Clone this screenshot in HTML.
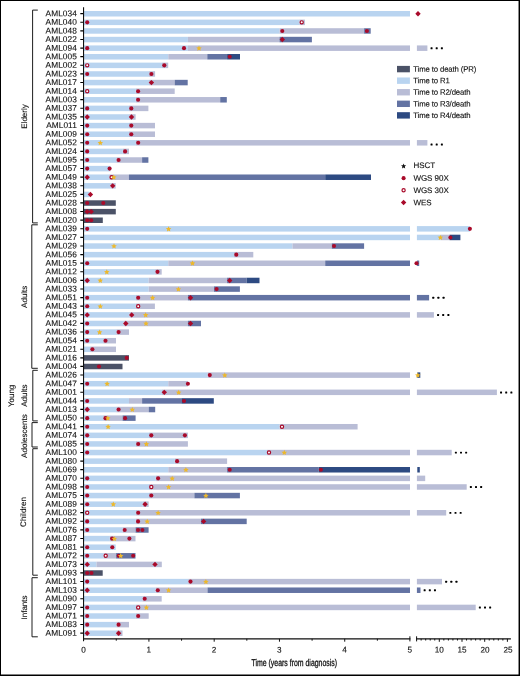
<!DOCTYPE html>
<html><head><meta charset="utf-8"><title>AML timeline</title>
<style>
html,body{margin:0;padding:0;background:#fff}
body{width:520px;height:676px;position:relative;overflow:hidden;font-family:"Liberation Sans",sans-serif}
</style></head><body>
<svg width="520" height="676" viewBox="0 0 520 676" style="position:absolute;left:0;top:0" font-family="'Liberation Sans', sans-serif" font-size="8" fill="#111" text-rendering="geometricPrecision">
<rect x="83.65" y="11.00" width="326.35" height="5.50" fill="#b9d4f0"/>
<rect x="83.65" y="19.60" width="215.75" height="5.50" fill="#b9d4f0"/>
<rect x="299.40" y="19.60" width="5.50" height="5.50" fill="#b9bdd6"/>
<rect x="83.65" y="28.21" width="195.85" height="5.50" fill="#b9d4f0"/>
<rect x="279.50" y="28.21" width="84.60" height="5.50" fill="#b9bdd6"/>
<rect x="364.10" y="28.21" width="6.60" height="5.50" fill="#6373a3"/>
<rect x="83.65" y="36.81" width="104.25" height="5.50" fill="#b9d4f0"/>
<rect x="187.90" y="36.81" width="91.60" height="5.50" fill="#b9bdd6"/>
<rect x="279.50" y="36.81" width="32.40" height="5.50" fill="#6373a3"/>
<rect x="83.65" y="45.42" width="104.25" height="5.50" fill="#b9d4f0"/>
<rect x="187.90" y="45.42" width="222.10" height="5.50" fill="#b9bdd6"/>
<rect x="416.90" y="45.42" width="10.50" height="5.50" fill="#b9bdd6"/>
<rect x="83.65" y="54.02" width="84.65" height="5.50" fill="#b9d4f0"/>
<rect x="168.30" y="54.02" width="39.00" height="5.50" fill="#b9bdd6"/>
<rect x="207.30" y="54.02" width="19.80" height="5.50" fill="#6373a3"/>
<rect x="227.10" y="54.02" width="12.90" height="5.50" fill="#2d4a82"/>
<rect x="83.65" y="62.62" width="78.35" height="5.50" fill="#b9d4f0"/>
<rect x="162.00" y="62.62" width="6.20" height="5.50" fill="#b9bdd6"/>
<rect x="83.65" y="71.23" width="65.45" height="5.50" fill="#b9d4f0"/>
<rect x="149.10" y="71.23" width="6.00" height="5.50" fill="#b9bdd6"/>
<rect x="83.65" y="79.83" width="65.45" height="5.50" fill="#b9d4f0"/>
<rect x="149.10" y="79.83" width="25.60" height="5.50" fill="#b9bdd6"/>
<rect x="174.70" y="79.83" width="13.00" height="5.50" fill="#6373a3"/>
<rect x="83.65" y="88.44" width="52.15" height="5.50" fill="#b9d4f0"/>
<rect x="135.80" y="88.44" width="38.90" height="5.50" fill="#b9bdd6"/>
<rect x="83.65" y="97.04" width="52.15" height="5.50" fill="#b9d4f0"/>
<rect x="135.80" y="97.04" width="84.40" height="5.50" fill="#b9bdd6"/>
<rect x="220.20" y="97.04" width="6.60" height="5.50" fill="#6373a3"/>
<rect x="83.65" y="105.64" width="45.35" height="5.50" fill="#b9d4f0"/>
<rect x="129.00" y="105.64" width="19.40" height="5.50" fill="#b9bdd6"/>
<rect x="83.65" y="114.25" width="45.55" height="5.50" fill="#b9d4f0"/>
<rect x="129.20" y="114.25" width="6.40" height="5.50" fill="#b9bdd6"/>
<rect x="83.65" y="122.85" width="45.35" height="5.50" fill="#b9d4f0"/>
<rect x="129.00" y="122.85" width="26.00" height="5.50" fill="#b9bdd6"/>
<rect x="83.65" y="131.46" width="45.35" height="5.50" fill="#b9d4f0"/>
<rect x="129.00" y="131.46" width="26.00" height="5.50" fill="#b9bdd6"/>
<rect x="83.65" y="140.06" width="52.25" height="5.50" fill="#b9d4f0"/>
<rect x="135.90" y="140.06" width="274.10" height="5.50" fill="#b9bdd6"/>
<rect x="416.90" y="140.06" width="10.50" height="5.50" fill="#b9bdd6"/>
<rect x="83.65" y="148.66" width="39.15" height="5.50" fill="#b9d4f0"/>
<rect x="122.80" y="148.66" width="6.20" height="5.50" fill="#b9bdd6"/>
<rect x="83.65" y="157.27" width="32.65" height="5.50" fill="#b9d4f0"/>
<rect x="116.30" y="157.27" width="25.80" height="5.50" fill="#b9bdd6"/>
<rect x="142.10" y="157.27" width="6.30" height="5.50" fill="#6373a3"/>
<rect x="83.65" y="165.87" width="26.85" height="5.50" fill="#b9d4f0"/>
<rect x="83.65" y="174.48" width="25.65" height="5.50" fill="#b9d4f0"/>
<rect x="109.30" y="174.48" width="19.60" height="5.50" fill="#b9bdd6"/>
<rect x="128.90" y="174.48" width="196.30" height="5.50" fill="#6373a3"/>
<rect x="325.20" y="174.48" width="45.80" height="5.50" fill="#2d4a82"/>
<rect x="83.65" y="183.08" width="26.75" height="5.50" fill="#b9d4f0"/>
<rect x="110.40" y="183.08" width="5.30" height="5.50" fill="#b9bdd6"/>
<rect x="83.65" y="191.68" width="5.75" height="5.50" fill="#b9d4f0"/>
<rect x="83.65" y="200.29" width="32.15" height="5.50" fill="#4b5267"/>
<rect x="83.65" y="208.89" width="32.15" height="5.50" fill="#4b5267"/>
<rect x="83.65" y="217.50" width="19.15" height="5.50" fill="#4b5267"/>
<rect x="83.65" y="226.10" width="326.35" height="5.50" fill="#b9d4f0"/>
<rect x="416.90" y="226.10" width="53.00" height="5.50" fill="#b9d4f0"/>
<rect x="83.65" y="234.70" width="326.35" height="5.50" fill="#b9d4f0"/>
<rect x="416.90" y="234.70" width="24.10" height="5.50" fill="#b9d4f0"/>
<rect x="441.00" y="234.70" width="8.60" height="5.50" fill="#b9bdd6"/>
<rect x="449.60" y="234.70" width="10.80" height="5.50" fill="#2d4a82"/>
<rect x="83.65" y="243.31" width="208.85" height="5.50" fill="#b9d4f0"/>
<rect x="292.50" y="243.31" width="39.20" height="5.50" fill="#b9bdd6"/>
<rect x="331.70" y="243.31" width="32.40" height="5.50" fill="#6373a3"/>
<rect x="83.65" y="251.91" width="150.35" height="5.50" fill="#b9d4f0"/>
<rect x="234.00" y="251.91" width="19.30" height="5.50" fill="#b9bdd6"/>
<rect x="83.65" y="260.52" width="84.65" height="5.50" fill="#b9d4f0"/>
<rect x="168.30" y="260.52" width="156.90" height="5.50" fill="#b9bdd6"/>
<rect x="325.20" y="260.52" width="84.80" height="5.50" fill="#6373a3"/>
<rect x="416.90" y="260.52" width="2.30" height="5.50" fill="#6373a3"/>
<rect x="83.65" y="269.12" width="71.55" height="5.50" fill="#b9d4f0"/>
<rect x="155.20" y="269.12" width="6.50" height="5.50" fill="#b9bdd6"/>
<rect x="83.65" y="277.72" width="65.05" height="5.50" fill="#b9d4f0"/>
<rect x="148.70" y="277.72" width="78.40" height="5.50" fill="#b9bdd6"/>
<rect x="227.10" y="277.72" width="19.60" height="5.50" fill="#6373a3"/>
<rect x="246.70" y="277.72" width="12.80" height="5.50" fill="#2d4a82"/>
<rect x="83.65" y="286.33" width="65.05" height="5.50" fill="#b9d4f0"/>
<rect x="148.70" y="286.33" width="65.30" height="5.50" fill="#b9bdd6"/>
<rect x="214.00" y="286.33" width="25.90" height="5.50" fill="#6373a3"/>
<rect x="83.65" y="294.93" width="52.25" height="5.50" fill="#b9d4f0"/>
<rect x="135.90" y="294.93" width="52.00" height="5.50" fill="#b9bdd6"/>
<rect x="187.90" y="294.93" width="222.10" height="5.50" fill="#6373a3"/>
<rect x="416.90" y="294.93" width="12.20" height="5.50" fill="#6373a3"/>
<rect x="83.65" y="303.54" width="52.25" height="5.50" fill="#b9d4f0"/>
<rect x="135.90" y="303.54" width="19.00" height="5.50" fill="#b9bdd6"/>
<rect x="83.65" y="312.14" width="45.75" height="5.50" fill="#b9d4f0"/>
<rect x="129.40" y="312.14" width="280.60" height="5.50" fill="#b9bdd6"/>
<rect x="416.90" y="312.14" width="17.00" height="5.50" fill="#b9bdd6"/>
<rect x="83.65" y="320.74" width="39.85" height="5.50" fill="#b9d4f0"/>
<rect x="123.50" y="320.74" width="64.40" height="5.50" fill="#b9bdd6"/>
<rect x="187.90" y="320.74" width="13.10" height="5.50" fill="#6373a3"/>
<rect x="83.65" y="329.35" width="32.65" height="5.50" fill="#b9d4f0"/>
<rect x="116.30" y="329.35" width="12.70" height="5.50" fill="#b9bdd6"/>
<rect x="83.65" y="337.95" width="19.55" height="5.50" fill="#b9d4f0"/>
<rect x="103.20" y="337.95" width="12.80" height="5.50" fill="#b9bdd6"/>
<rect x="83.65" y="346.56" width="6.45" height="5.50" fill="#b9d4f0"/>
<rect x="90.10" y="346.56" width="25.90" height="5.50" fill="#b9bdd6"/>
<rect x="83.65" y="355.16" width="45.35" height="5.50" fill="#4b5267"/>
<rect x="83.65" y="363.76" width="38.85" height="5.50" fill="#4b5267"/>
<rect x="83.65" y="372.37" width="123.85" height="5.50" fill="#b9d4f0"/>
<rect x="207.50" y="372.37" width="202.50" height="5.50" fill="#b9bdd6"/>
<rect x="417.30" y="372.37" width="3.00" height="5.50" fill="#2d4a82"/>
<rect x="83.65" y="380.97" width="84.65" height="5.50" fill="#b9d4f0"/>
<rect x="168.30" y="380.97" width="19.60" height="5.50" fill="#b9bdd6"/>
<rect x="83.65" y="389.58" width="78.35" height="5.50" fill="#b9d4f0"/>
<rect x="162.00" y="389.58" width="248.00" height="5.50" fill="#b9bdd6"/>
<rect x="416.90" y="389.58" width="80.00" height="5.50" fill="#b9bdd6"/>
<rect x="83.65" y="398.18" width="45.35" height="5.50" fill="#b9d4f0"/>
<rect x="129.00" y="398.18" width="13.10" height="5.50" fill="#b9bdd6"/>
<rect x="142.10" y="398.18" width="39.20" height="5.50" fill="#6373a3"/>
<rect x="181.30" y="398.18" width="32.50" height="5.50" fill="#2d4a82"/>
<rect x="83.65" y="406.78" width="32.65" height="5.50" fill="#b9d4f0"/>
<rect x="116.30" y="406.78" width="32.40" height="5.50" fill="#b9bdd6"/>
<rect x="148.70" y="406.78" width="6.50" height="5.50" fill="#6373a3"/>
<rect x="83.65" y="415.39" width="19.55" height="5.50" fill="#b9d4f0"/>
<rect x="103.20" y="415.39" width="19.30" height="5.50" fill="#b9bdd6"/>
<rect x="122.50" y="415.39" width="13.10" height="5.50" fill="#6373a3"/>
<rect x="83.65" y="423.99" width="195.85" height="5.50" fill="#b9d4f0"/>
<rect x="279.50" y="423.99" width="78.10" height="5.50" fill="#b9bdd6"/>
<rect x="83.65" y="432.60" width="65.35" height="5.50" fill="#b9d4f0"/>
<rect x="149.00" y="432.60" width="38.90" height="5.50" fill="#b9bdd6"/>
<rect x="83.65" y="441.20" width="52.25" height="5.50" fill="#b9d4f0"/>
<rect x="135.90" y="441.20" width="52.00" height="5.50" fill="#b9bdd6"/>
<rect x="83.65" y="449.80" width="183.35" height="5.50" fill="#b9d4f0"/>
<rect x="267.00" y="449.80" width="143.00" height="5.50" fill="#b9bdd6"/>
<rect x="416.90" y="449.80" width="34.80" height="5.50" fill="#b9bdd6"/>
<rect x="83.65" y="458.41" width="91.15" height="5.50" fill="#b9d4f0"/>
<rect x="174.80" y="458.41" width="52.30" height="5.50" fill="#b9bdd6"/>
<rect x="83.65" y="467.01" width="84.65" height="5.50" fill="#b9d4f0"/>
<rect x="168.30" y="467.01" width="58.80" height="5.50" fill="#b9bdd6"/>
<rect x="227.10" y="467.01" width="91.60" height="5.50" fill="#6373a3"/>
<rect x="318.70" y="467.01" width="91.30" height="5.50" fill="#2d4a82"/>
<rect x="417.30" y="467.01" width="2.50" height="5.50" fill="#2d4a82"/>
<rect x="83.65" y="475.62" width="72.15" height="5.50" fill="#b9d4f0"/>
<rect x="155.80" y="475.62" width="254.20" height="5.50" fill="#b9bdd6"/>
<rect x="416.90" y="475.62" width="8.30" height="5.50" fill="#b9bdd6"/>
<rect x="83.65" y="484.22" width="65.35" height="5.50" fill="#b9d4f0"/>
<rect x="149.00" y="484.22" width="261.00" height="5.50" fill="#b9bdd6"/>
<rect x="416.90" y="484.22" width="49.80" height="5.50" fill="#b9bdd6"/>
<rect x="83.65" y="492.82" width="65.35" height="5.50" fill="#b9d4f0"/>
<rect x="149.00" y="492.82" width="45.40" height="5.50" fill="#b9bdd6"/>
<rect x="194.40" y="492.82" width="45.50" height="5.50" fill="#6373a3"/>
<rect x="83.65" y="501.43" width="59.15" height="5.50" fill="#b9d4f0"/>
<rect x="142.80" y="501.43" width="5.90" height="5.50" fill="#b9bdd6"/>
<rect x="83.65" y="510.03" width="52.25" height="5.50" fill="#b9d4f0"/>
<rect x="135.90" y="510.03" width="274.10" height="5.50" fill="#b9bdd6"/>
<rect x="416.90" y="510.03" width="29.30" height="5.50" fill="#b9bdd6"/>
<rect x="83.65" y="518.64" width="52.10" height="5.50" fill="#b9d4f0"/>
<rect x="135.75" y="518.64" width="65.25" height="5.50" fill="#b9bdd6"/>
<rect x="201.00" y="518.64" width="45.70" height="5.50" fill="#6373a3"/>
<rect x="83.65" y="527.24" width="38.75" height="5.50" fill="#b9d4f0"/>
<rect x="122.40" y="527.24" width="13.10" height="5.50" fill="#b9bdd6"/>
<rect x="135.50" y="527.24" width="13.10" height="5.50" fill="#6373a3"/>
<rect x="83.65" y="535.84" width="26.15" height="5.50" fill="#b9d4f0"/>
<rect x="109.80" y="535.84" width="25.70" height="5.50" fill="#b9bdd6"/>
<rect x="83.65" y="544.45" width="32.05" height="5.50" fill="#b9d4f0"/>
<rect x="83.65" y="553.05" width="19.75" height="5.50" fill="#b9d4f0"/>
<rect x="103.40" y="553.05" width="12.70" height="5.50" fill="#b9bdd6"/>
<rect x="116.10" y="553.05" width="19.40" height="5.50" fill="#6373a3"/>
<rect x="83.65" y="561.66" width="12.85" height="5.50" fill="#b9d4f0"/>
<rect x="96.50" y="561.66" width="65.30" height="5.50" fill="#b9bdd6"/>
<rect x="83.65" y="570.26" width="19.05" height="5.50" fill="#4b5267"/>
<rect x="83.65" y="578.86" width="104.55" height="5.50" fill="#b9d4f0"/>
<rect x="188.20" y="578.86" width="221.80" height="5.50" fill="#b9bdd6"/>
<rect x="416.90" y="578.86" width="25.10" height="5.50" fill="#b9bdd6"/>
<rect x="83.65" y="587.47" width="71.85" height="5.50" fill="#b9d4f0"/>
<rect x="155.50" y="587.47" width="52.00" height="5.50" fill="#b9bdd6"/>
<rect x="207.50" y="587.47" width="202.50" height="5.50" fill="#6373a3"/>
<rect x="416.90" y="587.47" width="3.60" height="5.50" fill="#6373a3"/>
<rect x="83.65" y="596.07" width="58.75" height="5.50" fill="#b9d4f0"/>
<rect x="142.40" y="596.07" width="19.30" height="5.50" fill="#b9bdd6"/>
<rect x="83.65" y="604.68" width="52.25" height="5.50" fill="#b9d4f0"/>
<rect x="135.90" y="604.68" width="274.10" height="5.50" fill="#b9bdd6"/>
<rect x="416.90" y="604.68" width="58.80" height="5.50" fill="#b9bdd6"/>
<rect x="83.65" y="613.28" width="52.25" height="5.50" fill="#b9d4f0"/>
<rect x="135.90" y="613.28" width="12.80" height="5.50" fill="#b9bdd6"/>
<rect x="83.65" y="621.88" width="32.65" height="5.50" fill="#b9d4f0"/>
<rect x="116.30" y="621.88" width="12.70" height="5.50" fill="#b9bdd6"/>
<rect x="83.65" y="630.49" width="32.65" height="5.50" fill="#b9d4f0"/>
<rect x="116.30" y="630.49" width="6.20" height="5.50" fill="#b9bdd6"/>
<polygon points="415.30,13.75 418.00,11.05 420.70,13.75 418.00,16.45" fill="#a90a2a"/>
<circle cx="87.20" cy="22.35" r="2.05" fill="#a90a2a"/>
<circle cx="301.70" cy="22.35" r="1.6" fill="#fff" stroke="#a90a2a" stroke-width="1.2"/>
<circle cx="282.30" cy="30.96" r="2.05" fill="#a90a2a"/>
<circle cx="366.90" cy="30.96" r="2.05" fill="#a90a2a"/>
<polygon points="279.60,39.56 282.30,36.86 285.00,39.56 282.30,42.26" fill="#a90a2a"/>
<rect x="430.55" y="47.32" width="2.0" height="1.9" rx="0.5" fill="#000"/>
<rect x="435.70" y="47.32" width="2.0" height="1.9" rx="0.5" fill="#000"/>
<rect x="440.85" y="47.32" width="2.0" height="1.9" rx="0.5" fill="#000"/>
<circle cx="87.20" cy="48.17" r="2.05" fill="#a90a2a"/>
<circle cx="184.00" cy="48.17" r="2.05" fill="#a90a2a"/>
<polygon points="199.00,45.47 199.80,47.26 201.76,47.47 200.30,48.79 200.70,50.71 199.00,49.73 197.30,50.71 197.70,48.79 196.24,47.47 198.20,47.26" fill="#edb82b"/>
<circle cx="229.70" cy="56.77" r="2.05" fill="#a90a2a"/>
<circle cx="87.20" cy="65.37" r="1.6" fill="#fff" stroke="#a90a2a" stroke-width="1.2"/>
<circle cx="164.30" cy="65.37" r="2.05" fill="#a90a2a"/>
<circle cx="87.20" cy="73.98" r="2.05" fill="#a90a2a"/>
<circle cx="151.40" cy="73.98" r="2.05" fill="#a90a2a"/>
<polygon points="148.70,82.58 151.40,79.88 154.10,82.58 151.40,85.28" fill="#a90a2a"/>
<circle cx="87.20" cy="91.19" r="1.6" fill="#fff" stroke="#a90a2a" stroke-width="1.2"/>
<circle cx="138.10" cy="91.19" r="2.05" fill="#a90a2a"/>
<circle cx="138.10" cy="99.79" r="2.05" fill="#a90a2a"/>
<circle cx="87.20" cy="108.39" r="2.05" fill="#a90a2a"/>
<circle cx="131.30" cy="108.39" r="2.05" fill="#a90a2a"/>
<polygon points="84.50,117.00 87.20,114.30 89.90,117.00 87.20,119.70" fill="#a90a2a"/>
<polygon points="128.80,117.00 131.50,114.30 134.20,117.00 131.50,119.70" fill="#a90a2a"/>
<circle cx="87.20" cy="125.60" r="2.05" fill="#a90a2a"/>
<circle cx="131.30" cy="125.60" r="2.05" fill="#a90a2a"/>
<circle cx="87.20" cy="134.21" r="2.05" fill="#a90a2a"/>
<circle cx="131.30" cy="134.21" r="2.05" fill="#a90a2a"/>
<rect x="430.55" y="143.56" width="2.0" height="1.9" rx="0.5" fill="#000"/>
<rect x="435.70" y="143.56" width="2.0" height="1.9" rx="0.5" fill="#000"/>
<rect x="440.85" y="143.56" width="2.0" height="1.9" rx="0.5" fill="#000"/>
<circle cx="87.20" cy="142.81" r="2.05" fill="#a90a2a"/>
<polygon points="100.30,140.11 101.10,141.91 103.06,142.11 101.60,143.43 102.00,145.36 100.30,144.37 98.60,145.36 99.00,143.43 97.54,142.11 99.50,141.91" fill="#edb82b"/>
<circle cx="138.20" cy="142.81" r="2.05" fill="#a90a2a"/>
<circle cx="87.20" cy="151.41" r="2.05" fill="#a90a2a"/>
<circle cx="125.10" cy="151.41" r="2.05" fill="#a90a2a"/>
<circle cx="87.20" cy="160.02" r="2.05" fill="#a90a2a"/>
<circle cx="118.60" cy="160.02" r="2.05" fill="#a90a2a"/>
<circle cx="87.20" cy="168.62" r="2.05" fill="#a90a2a"/>
<circle cx="109.60" cy="168.62" r="2.05" fill="#a90a2a"/>
<polygon points="84.50,177.23 87.20,174.53 89.90,177.23 87.20,179.93" fill="#a90a2a"/>
<circle cx="111.60" cy="177.23" r="1.6" fill="#fff" stroke="#a90a2a" stroke-width="1.2"/>
<polygon points="113.80,174.53 114.60,176.32 116.56,176.53 115.10,177.85 115.50,179.77 113.80,178.79 112.10,179.77 112.50,177.85 111.04,176.53 113.00,176.32" fill="#edb82b"/>
<polygon points="110.00,185.83 112.70,183.13 115.40,185.83 112.70,188.53" fill="#a90a2a"/>
<polygon points="87.70,194.43 90.40,191.73 93.10,194.43 90.40,197.13" fill="#a90a2a"/>
<circle cx="87.20" cy="203.04" r="2.05" fill="#a90a2a"/>
<circle cx="103.30" cy="203.04" r="2.05" fill="#a90a2a"/>
<polygon points="84.50,211.64 87.20,208.94 89.90,211.64 87.20,214.34" fill="#a90a2a"/>
<polygon points="88.50,211.64 91.20,208.94 93.90,211.64 91.20,214.34" fill="#a90a2a"/>
<circle cx="87.20" cy="220.25" r="2.05" fill="#a90a2a"/>
<circle cx="91.20" cy="220.25" r="2.05" fill="#a90a2a"/>
<circle cx="87.20" cy="228.85" r="2.05" fill="#a90a2a"/>
<polygon points="168.60,226.15 169.40,227.95 171.36,228.15 169.90,229.47 170.30,231.40 168.60,230.41 166.90,231.40 167.30,229.47 165.84,228.15 167.80,227.95" fill="#edb82b"/>
<circle cx="469.90" cy="228.85" r="2.05" fill="#a90a2a"/>
<polygon points="440.40,234.75 441.20,236.55 443.16,236.76 441.70,238.08 442.10,240.00 440.40,239.02 438.70,240.00 439.10,238.08 437.64,236.76 439.60,236.55" fill="#edb82b"/>
<circle cx="450.40" cy="237.45" r="2.05" fill="#a90a2a"/>
<polygon points="114.00,243.36 114.80,245.16 116.76,245.36 115.30,246.68 115.70,248.60 114.00,247.62 112.30,248.60 112.70,246.68 111.24,245.36 113.20,245.16" fill="#edb82b"/>
<circle cx="334.00" cy="246.06" r="2.05" fill="#a90a2a"/>
<circle cx="236.30" cy="254.66" r="2.05" fill="#a90a2a"/>
<circle cx="87.20" cy="263.27" r="2.05" fill="#a90a2a"/>
<polygon points="192.50,260.57 193.30,262.36 195.26,262.57 193.80,263.89 194.20,265.81 192.50,264.83 190.80,265.81 191.20,263.89 189.74,262.57 191.70,262.36" fill="#edb82b"/>
<circle cx="416.50" cy="263.27" r="2.05" fill="#a90a2a"/>
<polygon points="106.80,269.17 107.60,270.97 109.56,271.17 108.10,272.49 108.50,274.42 106.80,273.43 105.10,274.42 105.50,272.49 104.04,271.17 106.00,270.97" fill="#edb82b"/>
<circle cx="157.50" cy="271.87" r="2.05" fill="#a90a2a"/>
<polygon points="84.50,280.47 87.20,277.77 89.90,280.47 87.20,283.17" fill="#a90a2a"/>
<polygon points="100.30,277.77 101.10,279.57 103.06,279.78 101.60,281.10 102.00,283.02 100.30,282.04 98.60,283.02 99.00,281.10 97.54,279.78 99.50,279.57" fill="#edb82b"/>
<polygon points="227.00,280.47 229.70,277.77 232.40,280.47 229.70,283.17" fill="#a90a2a"/>
<polygon points="178.40,286.38 179.20,288.18 181.16,288.38 179.70,289.70 180.10,291.62 178.40,290.64 176.70,291.62 177.10,289.70 175.64,288.38 177.60,288.18" fill="#edb82b"/>
<circle cx="216.60" cy="289.08" r="2.05" fill="#a90a2a"/>
<rect x="432.25" y="296.83" width="2.0" height="1.9" rx="0.5" fill="#000"/>
<rect x="437.40" y="296.83" width="2.0" height="1.9" rx="0.5" fill="#000"/>
<rect x="442.55" y="296.83" width="2.0" height="1.9" rx="0.5" fill="#000"/>
<circle cx="87.20" cy="297.68" r="2.05" fill="#a90a2a"/>
<circle cx="138.20" cy="297.68" r="2.05" fill="#a90a2a"/>
<polygon points="152.60,294.98 153.40,296.78 155.36,296.99 153.90,298.30 154.30,300.23 152.60,299.24 150.90,300.23 151.30,298.30 149.84,296.99 151.80,296.78" fill="#edb82b"/>
<polygon points="187.80,297.68 190.50,294.98 193.20,297.68 190.50,300.38" fill="#a90a2a"/>
<circle cx="87.20" cy="306.29" r="2.05" fill="#a90a2a"/>
<polygon points="100.30,303.59 101.10,305.38 103.06,305.59 101.60,306.91 102.00,308.83 100.30,307.85 98.60,308.83 99.00,306.91 97.54,305.59 99.50,305.38" fill="#edb82b"/>
<circle cx="138.20" cy="306.29" r="1.6" fill="#fff" stroke="#a90a2a" stroke-width="1.2"/>
<rect x="437.05" y="314.04" width="2.0" height="1.9" rx="0.5" fill="#000"/>
<rect x="442.20" y="314.04" width="2.0" height="1.9" rx="0.5" fill="#000"/>
<rect x="447.35" y="314.04" width="2.0" height="1.9" rx="0.5" fill="#000"/>
<polygon points="84.50,314.89 87.20,312.19 89.90,314.89 87.20,317.59" fill="#a90a2a"/>
<polygon points="129.00,314.89 131.70,312.19 134.40,314.89 131.70,317.59" fill="#a90a2a"/>
<polygon points="145.70,312.19 146.50,313.99 148.46,314.19 147.00,315.51 147.40,317.44 145.70,316.45 144.00,317.44 144.40,315.51 142.94,314.19 144.90,313.99" fill="#edb82b"/>
<circle cx="87.20" cy="323.49" r="2.05" fill="#a90a2a"/>
<polygon points="123.10,323.49 125.80,320.79 128.50,323.49 125.80,326.19" fill="#a90a2a"/>
<polygon points="146.00,320.79 146.80,322.59 148.76,322.80 147.30,324.12 147.70,326.04 146.00,325.06 144.30,326.04 144.70,324.12 143.24,322.80 145.20,322.59" fill="#edb82b"/>
<polygon points="187.80,323.49 190.50,320.79 193.20,323.49 190.50,326.19" fill="#a90a2a"/>
<circle cx="87.20" cy="332.10" r="2.05" fill="#a90a2a"/>
<polygon points="99.60,329.40 100.40,331.20 102.36,331.40 100.90,332.72 101.30,334.64 99.60,333.66 97.90,334.64 98.30,332.72 96.84,331.40 98.80,331.20" fill="#edb82b"/>
<circle cx="118.60" cy="332.10" r="2.05" fill="#a90a2a"/>
<circle cx="87.20" cy="340.70" r="2.05" fill="#a90a2a"/>
<circle cx="105.50" cy="340.70" r="2.05" fill="#a90a2a"/>
<circle cx="92.40" cy="349.31" r="2.05" fill="#a90a2a"/>
<circle cx="126.70" cy="357.91" r="2.05" fill="#a90a2a"/>
<circle cx="99.00" cy="366.51" r="2.05" fill="#a90a2a"/>
<circle cx="209.80" cy="375.12" r="2.05" fill="#a90a2a"/>
<polygon points="224.80,372.42 225.60,374.22 227.56,374.42 226.10,375.74 226.50,377.66 224.80,376.68 223.10,377.66 223.50,375.74 222.04,374.42 224.00,374.22" fill="#edb82b"/>
<polygon points="417.80,372.42 418.60,374.22 420.56,374.42 419.10,375.74 419.50,377.66 417.80,376.68 416.10,377.66 416.50,375.74 415.04,374.42 417.00,374.22" fill="#edb82b"/>
<circle cx="87.20" cy="383.72" r="2.05" fill="#a90a2a"/>
<polygon points="107.10,381.02 107.90,382.82 109.86,383.03 108.40,384.34 108.80,386.27 107.10,385.28 105.40,386.27 105.80,384.34 104.34,383.03 106.30,382.82" fill="#edb82b"/>
<circle cx="187.90" cy="383.72" r="2.05" fill="#a90a2a"/>
<rect x="500.05" y="391.48" width="2.0" height="1.9" rx="0.5" fill="#000"/>
<rect x="505.20" y="391.48" width="2.0" height="1.9" rx="0.5" fill="#000"/>
<rect x="510.35" y="391.48" width="2.0" height="1.9" rx="0.5" fill="#000"/>
<polygon points="161.60,392.33 164.30,389.63 167.00,392.33 164.30,395.03" fill="#a90a2a"/>
<polygon points="178.70,389.63 179.50,391.42 181.46,391.63 180.00,392.95 180.40,394.87 178.70,393.89 177.00,394.87 177.40,392.95 175.94,391.63 177.90,391.42" fill="#edb82b"/>
<circle cx="87.20" cy="400.93" r="2.05" fill="#a90a2a"/>
<circle cx="184.00" cy="400.93" r="2.05" fill="#a90a2a"/>
<polygon points="84.50,409.53 87.20,406.83 89.90,409.53 87.20,412.23" fill="#a90a2a"/>
<circle cx="118.60" cy="409.53" r="2.05" fill="#a90a2a"/>
<polygon points="132.30,406.83 133.10,408.63 135.06,408.84 133.60,410.16 134.00,412.08 132.30,411.10 130.60,412.08 131.00,410.16 129.54,408.84 131.50,408.63" fill="#edb82b"/>
<circle cx="87.20" cy="418.14" r="2.05" fill="#a90a2a"/>
<circle cx="105.50" cy="418.14" r="2.05" fill="#a90a2a"/>
<polygon points="107.80,415.44 108.60,417.24 110.56,417.44 109.10,418.76 109.50,420.68 107.80,419.70 106.10,420.68 106.50,418.76 105.04,417.44 107.00,417.24" fill="#edb82b"/>
<circle cx="125.10" cy="418.14" r="2.05" fill="#a90a2a"/>
<circle cx="87.20" cy="426.74" r="2.05" fill="#a90a2a"/>
<polygon points="108.10,424.04 108.90,425.84 110.86,426.05 109.40,427.36 109.80,429.29 108.10,428.30 106.40,429.29 106.80,427.36 105.34,426.05 107.30,425.84" fill="#edb82b"/>
<circle cx="282.00" cy="426.74" r="1.6" fill="#fff" stroke="#a90a2a" stroke-width="1.2"/>
<circle cx="87.20" cy="435.35" r="2.05" fill="#a90a2a"/>
<circle cx="151.30" cy="435.35" r="2.05" fill="#a90a2a"/>
<circle cx="184.90" cy="435.35" r="2.05" fill="#a90a2a"/>
<circle cx="87.20" cy="443.95" r="2.05" fill="#a90a2a"/>
<circle cx="138.20" cy="443.95" r="2.05" fill="#a90a2a"/>
<polygon points="146.40,441.25 147.20,443.05 149.16,443.25 147.70,444.57 148.10,446.50 146.40,445.51 144.70,446.50 145.10,444.57 143.64,443.25 145.60,443.05" fill="#edb82b"/>
<rect x="454.85" y="451.70" width="2.0" height="1.9" rx="0.5" fill="#000"/>
<rect x="460.00" y="451.70" width="2.0" height="1.9" rx="0.5" fill="#000"/>
<rect x="465.15" y="451.70" width="2.0" height="1.9" rx="0.5" fill="#000"/>
<circle cx="87.20" cy="452.55" r="2.05" fill="#a90a2a"/>
<circle cx="269.00" cy="452.55" r="1.6" fill="#fff" stroke="#a90a2a" stroke-width="1.2"/>
<polygon points="284.30,449.85 285.10,451.65 287.06,451.86 285.60,453.18 286.00,455.10 284.30,454.12 282.60,455.10 283.00,453.18 281.54,451.86 283.50,451.65" fill="#edb82b"/>
<circle cx="177.10" cy="461.16" r="2.05" fill="#a90a2a"/>
<polygon points="185.90,467.06 186.70,468.86 188.66,469.07 187.20,470.38 187.60,472.31 185.90,471.32 184.20,472.31 184.60,470.38 183.14,469.07 185.10,468.86" fill="#edb82b"/>
<circle cx="229.70" cy="469.76" r="2.05" fill="#a90a2a"/>
<circle cx="320.90" cy="469.76" r="2.05" fill="#a90a2a"/>
<circle cx="87.20" cy="478.37" r="2.05" fill="#a90a2a"/>
<circle cx="158.10" cy="478.37" r="2.05" fill="#a90a2a"/>
<polygon points="172.20,475.67 173.00,477.46 174.96,477.67 173.50,478.99 173.90,480.91 172.20,479.93 170.50,480.91 170.90,478.99 169.44,477.67 171.40,477.46" fill="#edb82b"/>
<rect x="469.85" y="486.12" width="2.0" height="1.9" rx="0.5" fill="#000"/>
<rect x="475.00" y="486.12" width="2.0" height="1.9" rx="0.5" fill="#000"/>
<rect x="480.15" y="486.12" width="2.0" height="1.9" rx="0.5" fill="#000"/>
<circle cx="87.20" cy="486.97" r="2.05" fill="#a90a2a"/>
<circle cx="151.30" cy="486.97" r="1.6" fill="#fff" stroke="#a90a2a" stroke-width="1.2"/>
<polygon points="168.60,484.27 169.40,486.07 171.36,486.27 169.90,487.59 170.30,489.52 168.60,488.53 166.90,489.52 167.30,487.59 165.84,486.27 167.80,486.07" fill="#edb82b"/>
<circle cx="87.20" cy="495.57" r="2.05" fill="#a90a2a"/>
<circle cx="151.30" cy="495.57" r="2.05" fill="#a90a2a"/>
<polygon points="205.90,492.87 206.70,494.67 208.66,494.88 207.20,496.20 207.60,498.12 205.90,497.14 204.20,498.12 204.60,496.20 203.14,494.88 205.10,494.67" fill="#edb82b"/>
<circle cx="87.20" cy="504.18" r="2.05" fill="#a90a2a"/>
<polygon points="113.30,501.48 114.10,503.28 116.06,503.48 114.60,504.80 115.00,506.72 113.30,505.74 111.60,506.72 112.00,504.80 110.54,503.48 112.50,503.28" fill="#edb82b"/>
<polygon points="142.40,504.18 145.10,501.48 147.80,504.18 145.10,506.88" fill="#a90a2a"/>
<rect x="449.35" y="511.93" width="2.0" height="1.9" rx="0.5" fill="#000"/>
<rect x="454.50" y="511.93" width="2.0" height="1.9" rx="0.5" fill="#000"/>
<rect x="459.65" y="511.93" width="2.0" height="1.9" rx="0.5" fill="#000"/>
<circle cx="87.20" cy="512.78" r="1.6" fill="#fff" stroke="#a90a2a" stroke-width="1.2"/>
<circle cx="138.20" cy="512.78" r="2.05" fill="#a90a2a"/>
<polygon points="158.10,510.08 158.90,511.88 160.86,512.09 159.40,513.40 159.80,515.33 158.10,514.35 156.40,515.33 156.80,513.40 155.34,512.09 157.30,511.88" fill="#edb82b"/>
<circle cx="87.20" cy="521.39" r="2.05" fill="#a90a2a"/>
<circle cx="138.05" cy="521.39" r="2.05" fill="#a90a2a"/>
<polygon points="147.20,518.69 148.00,520.48 149.96,520.69 148.50,522.01 148.90,523.93 147.20,522.95 145.50,523.93 145.90,522.01 144.44,520.69 146.40,520.48" fill="#edb82b"/>
<polygon points="200.90,521.39 203.60,518.69 206.30,521.39 203.60,524.09" fill="#a90a2a"/>
<circle cx="87.20" cy="529.99" r="2.05" fill="#a90a2a"/>
<circle cx="124.70" cy="529.99" r="2.05" fill="#a90a2a"/>
<circle cx="138.05" cy="529.99" r="2.05" fill="#a90a2a"/>
<circle cx="142.40" cy="529.99" r="2.05" fill="#a90a2a"/>
<circle cx="112.10" cy="538.59" r="2.05" fill="#a90a2a"/>
<polygon points="114.30,535.89 115.10,537.69 117.06,537.90 115.60,539.22 116.00,541.14 114.30,540.16 112.60,541.14 113.00,539.22 111.54,537.90 113.50,537.69" fill="#edb82b"/>
<circle cx="129.40" cy="538.59" r="2.05" fill="#a90a2a"/>
<circle cx="87.20" cy="547.20" r="2.05" fill="#a90a2a"/>
<circle cx="112.30" cy="547.20" r="2.05" fill="#a90a2a"/>
<circle cx="87.20" cy="555.80" r="2.05" fill="#a90a2a"/>
<circle cx="105.70" cy="555.80" r="1.6" fill="#fff" stroke="#a90a2a" stroke-width="1.2"/>
<circle cx="118.70" cy="555.80" r="2.05" fill="#a90a2a"/>
<polygon points="120.70,553.10 121.50,554.90 123.46,555.11 122.00,556.42 122.40,558.35 120.70,557.37 119.00,558.35 119.40,556.42 117.94,555.11 119.90,554.90" fill="#edb82b"/>
<circle cx="133.20" cy="555.80" r="2.05" fill="#a90a2a"/>
<polygon points="84.50,564.41 87.20,561.71 89.90,564.41 87.20,567.11" fill="#a90a2a"/>
<polygon points="152.30,564.41 155.00,561.71 157.70,564.41 155.00,567.11" fill="#a90a2a"/>
<circle cx="87.20" cy="573.01" r="2.05" fill="#a90a2a"/>
<circle cx="91.50" cy="573.01" r="2.05" fill="#a90a2a"/>
<rect x="445.15" y="580.76" width="2.0" height="1.9" rx="0.5" fill="#000"/>
<rect x="450.30" y="580.76" width="2.0" height="1.9" rx="0.5" fill="#000"/>
<rect x="455.45" y="580.76" width="2.0" height="1.9" rx="0.5" fill="#000"/>
<circle cx="87.20" cy="581.61" r="2.05" fill="#a90a2a"/>
<circle cx="190.50" cy="581.61" r="2.05" fill="#a90a2a"/>
<polygon points="205.90,578.91 206.70,580.71 208.66,580.92 207.20,582.24 207.60,584.16 205.90,583.18 204.20,584.16 204.60,582.24 203.14,580.92 205.10,580.71" fill="#edb82b"/>
<rect x="423.65" y="589.37" width="2.0" height="1.9" rx="0.5" fill="#000"/>
<rect x="428.80" y="589.37" width="2.0" height="1.9" rx="0.5" fill="#000"/>
<rect x="433.95" y="589.37" width="2.0" height="1.9" rx="0.5" fill="#000"/>
<polygon points="84.50,590.22 87.20,587.52 89.90,590.22 87.20,592.92" fill="#a90a2a"/>
<circle cx="157.80" cy="590.22" r="2.05" fill="#a90a2a"/>
<polygon points="168.60,587.52 169.40,589.32 171.36,589.52 169.90,590.84 170.30,592.76 168.60,591.78 166.90,592.76 167.30,590.84 165.84,589.52 167.80,589.32" fill="#edb82b"/>
<circle cx="144.70" cy="598.82" r="2.05" fill="#a90a2a"/>
<rect x="478.85" y="606.58" width="2.0" height="1.9" rx="0.5" fill="#000"/>
<rect x="484.00" y="606.58" width="2.0" height="1.9" rx="0.5" fill="#000"/>
<rect x="489.15" y="606.58" width="2.0" height="1.9" rx="0.5" fill="#000"/>
<circle cx="87.20" cy="607.43" r="2.05" fill="#a90a2a"/>
<circle cx="138.20" cy="607.43" r="1.6" fill="#fff" stroke="#a90a2a" stroke-width="1.2"/>
<polygon points="146.40,604.73 147.20,606.52 149.16,606.73 147.70,608.05 148.10,609.97 146.40,608.99 144.70,609.97 145.10,608.05 143.64,606.73 145.60,606.52" fill="#edb82b"/>
<circle cx="87.20" cy="616.03" r="2.05" fill="#a90a2a"/>
<circle cx="138.20" cy="616.03" r="2.05" fill="#a90a2a"/>
<circle cx="87.20" cy="624.63" r="2.05" fill="#a90a2a"/>
<circle cx="118.60" cy="624.63" r="2.05" fill="#a90a2a"/>
<polygon points="84.50,633.24 87.20,630.54 89.90,633.24 87.20,635.94" fill="#a90a2a"/>
<polygon points="115.90,633.24 118.60,630.54 121.30,633.24 118.60,635.94" fill="#a90a2a"/>
<text stroke="#111" stroke-width="0.12" transform="rotate(0.03 76.8 16.25)" x="76.8" y="16.25" text-anchor="end" font-size="8.3" letter-spacing="0.05">AML034</text>
<text stroke="#111" stroke-width="0.12" transform="rotate(0.03 76.8 24.85)" x="76.8" y="24.85" text-anchor="end" font-size="8.3" letter-spacing="0.05">AML040</text>
<text stroke="#111" stroke-width="0.12" transform="rotate(0.03 76.8 33.46)" x="76.8" y="33.46" text-anchor="end" font-size="8.3" letter-spacing="0.05">AML048</text>
<text stroke="#111" stroke-width="0.12" transform="rotate(0.03 76.8 42.06)" x="76.8" y="42.06" text-anchor="end" font-size="8.3" letter-spacing="0.05">AML022</text>
<text stroke="#111" stroke-width="0.12" transform="rotate(0.03 76.8 50.67)" x="76.8" y="50.67" text-anchor="end" font-size="8.3" letter-spacing="0.05">AML094</text>
<text stroke="#111" stroke-width="0.12" transform="rotate(0.03 76.8 59.27)" x="76.8" y="59.27" text-anchor="end" font-size="8.3" letter-spacing="0.05">AML005</text>
<text stroke="#111" stroke-width="0.12" transform="rotate(0.03 76.8 67.87)" x="76.8" y="67.87" text-anchor="end" font-size="8.3" letter-spacing="0.05">AML002</text>
<text stroke="#111" stroke-width="0.12" transform="rotate(0.03 76.8 76.48)" x="76.8" y="76.48" text-anchor="end" font-size="8.3" letter-spacing="0.05">AML023</text>
<text stroke="#111" stroke-width="0.12" transform="rotate(0.03 76.8 85.08)" x="76.8" y="85.08" text-anchor="end" font-size="8.3" letter-spacing="0.05">AML017</text>
<text stroke="#111" stroke-width="0.12" transform="rotate(0.03 76.8 93.69)" x="76.8" y="93.69" text-anchor="end" font-size="8.3" letter-spacing="0.05">AML014</text>
<text stroke="#111" stroke-width="0.12" transform="rotate(0.03 76.8 102.29)" x="76.8" y="102.29" text-anchor="end" font-size="8.3" letter-spacing="0.05">AML003</text>
<text stroke="#111" stroke-width="0.12" transform="rotate(0.03 76.8 110.89)" x="76.8" y="110.89" text-anchor="end" font-size="8.3" letter-spacing="0.05">AML037</text>
<text stroke="#111" stroke-width="0.12" transform="rotate(0.03 76.8 119.50)" x="76.8" y="119.50" text-anchor="end" font-size="8.3" letter-spacing="0.05">AML035</text>
<text stroke="#111" stroke-width="0.12" transform="rotate(0.03 76.8 128.10)" x="76.8" y="128.10" text-anchor="end" font-size="8.3" letter-spacing="0.05">AML011</text>
<text stroke="#111" stroke-width="0.12" transform="rotate(0.03 76.8 136.71)" x="76.8" y="136.71" text-anchor="end" font-size="8.3" letter-spacing="0.05">AML009</text>
<text stroke="#111" stroke-width="0.12" transform="rotate(0.03 76.8 145.31)" x="76.8" y="145.31" text-anchor="end" font-size="8.3" letter-spacing="0.05">AML052</text>
<text stroke="#111" stroke-width="0.12" transform="rotate(0.03 76.8 153.91)" x="76.8" y="153.91" text-anchor="end" font-size="8.3" letter-spacing="0.05">AML024</text>
<text stroke="#111" stroke-width="0.12" transform="rotate(0.03 76.8 162.52)" x="76.8" y="162.52" text-anchor="end" font-size="8.3" letter-spacing="0.05">AML095</text>
<text stroke="#111" stroke-width="0.12" transform="rotate(0.03 76.8 171.12)" x="76.8" y="171.12" text-anchor="end" font-size="8.3" letter-spacing="0.05">AML057</text>
<text stroke="#111" stroke-width="0.12" transform="rotate(0.03 76.8 179.73)" x="76.8" y="179.73" text-anchor="end" font-size="8.3" letter-spacing="0.05">AML049</text>
<text stroke="#111" stroke-width="0.12" transform="rotate(0.03 76.8 188.33)" x="76.8" y="188.33" text-anchor="end" font-size="8.3" letter-spacing="0.05">AML038</text>
<text stroke="#111" stroke-width="0.12" transform="rotate(0.03 76.8 196.93)" x="76.8" y="196.93" text-anchor="end" font-size="8.3" letter-spacing="0.05">AML025</text>
<text stroke="#111" stroke-width="0.12" transform="rotate(0.03 76.8 205.54)" x="76.8" y="205.54" text-anchor="end" font-size="8.3" letter-spacing="0.05">AML028</text>
<text stroke="#111" stroke-width="0.12" transform="rotate(0.03 76.8 214.14)" x="76.8" y="214.14" text-anchor="end" font-size="8.3" letter-spacing="0.05">AML008</text>
<text stroke="#111" stroke-width="0.12" transform="rotate(0.03 76.8 222.75)" x="76.8" y="222.75" text-anchor="end" font-size="8.3" letter-spacing="0.05">AML020</text>
<text stroke="#111" stroke-width="0.12" transform="rotate(0.03 76.8 231.35)" x="76.8" y="231.35" text-anchor="end" font-size="8.3" letter-spacing="0.05">AML039</text>
<text stroke="#111" stroke-width="0.12" transform="rotate(0.03 76.8 239.95)" x="76.8" y="239.95" text-anchor="end" font-size="8.3" letter-spacing="0.05">AML027</text>
<text stroke="#111" stroke-width="0.12" transform="rotate(0.03 76.8 248.56)" x="76.8" y="248.56" text-anchor="end" font-size="8.3" letter-spacing="0.05">AML029</text>
<text stroke="#111" stroke-width="0.12" transform="rotate(0.03 76.8 257.16)" x="76.8" y="257.16" text-anchor="end" font-size="8.3" letter-spacing="0.05">AML056</text>
<text stroke="#111" stroke-width="0.12" transform="rotate(0.03 76.8 265.77)" x="76.8" y="265.77" text-anchor="end" font-size="8.3" letter-spacing="0.05">AML015</text>
<text stroke="#111" stroke-width="0.12" transform="rotate(0.03 76.8 274.37)" x="76.8" y="274.37" text-anchor="end" font-size="8.3" letter-spacing="0.05">AML012</text>
<text stroke="#111" stroke-width="0.12" transform="rotate(0.03 76.8 282.97)" x="76.8" y="282.97" text-anchor="end" font-size="8.3" letter-spacing="0.05">AML006</text>
<text stroke="#111" stroke-width="0.12" transform="rotate(0.03 76.8 291.58)" x="76.8" y="291.58" text-anchor="end" font-size="8.3" letter-spacing="0.05">AML033</text>
<text stroke="#111" stroke-width="0.12" transform="rotate(0.03 76.8 300.18)" x="76.8" y="300.18" text-anchor="end" font-size="8.3" letter-spacing="0.05">AML051</text>
<text stroke="#111" stroke-width="0.12" transform="rotate(0.03 76.8 308.79)" x="76.8" y="308.79" text-anchor="end" font-size="8.3" letter-spacing="0.05">AML043</text>
<text stroke="#111" stroke-width="0.12" transform="rotate(0.03 76.8 317.39)" x="76.8" y="317.39" text-anchor="end" font-size="8.3" letter-spacing="0.05">AML045</text>
<text stroke="#111" stroke-width="0.12" transform="rotate(0.03 76.8 325.99)" x="76.8" y="325.99" text-anchor="end" font-size="8.3" letter-spacing="0.05">AML042</text>
<text stroke="#111" stroke-width="0.12" transform="rotate(0.03 76.8 334.60)" x="76.8" y="334.60" text-anchor="end" font-size="8.3" letter-spacing="0.05">AML036</text>
<text stroke="#111" stroke-width="0.12" transform="rotate(0.03 76.8 343.20)" x="76.8" y="343.20" text-anchor="end" font-size="8.3" letter-spacing="0.05">AML054</text>
<text stroke="#111" stroke-width="0.12" transform="rotate(0.03 76.8 351.81)" x="76.8" y="351.81" text-anchor="end" font-size="8.3" letter-spacing="0.05">AML021</text>
<text stroke="#111" stroke-width="0.12" transform="rotate(0.03 76.8 360.41)" x="76.8" y="360.41" text-anchor="end" font-size="8.3" letter-spacing="0.05">AML016</text>
<text stroke="#111" stroke-width="0.12" transform="rotate(0.03 76.8 369.01)" x="76.8" y="369.01" text-anchor="end" font-size="8.3" letter-spacing="0.05">AML004</text>
<text stroke="#111" stroke-width="0.12" transform="rotate(0.03 76.8 377.62)" x="76.8" y="377.62" text-anchor="end" font-size="8.3" letter-spacing="0.05">AML026</text>
<text stroke="#111" stroke-width="0.12" transform="rotate(0.03 76.8 386.22)" x="76.8" y="386.22" text-anchor="end" font-size="8.3" letter-spacing="0.05">AML047</text>
<text stroke="#111" stroke-width="0.12" transform="rotate(0.03 76.8 394.83)" x="76.8" y="394.83" text-anchor="end" font-size="8.3" letter-spacing="0.05">AML001</text>
<text stroke="#111" stroke-width="0.12" transform="rotate(0.03 76.8 403.43)" x="76.8" y="403.43" text-anchor="end" font-size="8.3" letter-spacing="0.05">AML044</text>
<text stroke="#111" stroke-width="0.12" transform="rotate(0.03 76.8 412.03)" x="76.8" y="412.03" text-anchor="end" font-size="8.3" letter-spacing="0.05">AML013</text>
<text stroke="#111" stroke-width="0.12" transform="rotate(0.03 76.8 420.64)" x="76.8" y="420.64" text-anchor="end" font-size="8.3" letter-spacing="0.05">AML050</text>
<text stroke="#111" stroke-width="0.12" transform="rotate(0.03 76.8 429.24)" x="76.8" y="429.24" text-anchor="end" font-size="8.3" letter-spacing="0.05">AML041</text>
<text stroke="#111" stroke-width="0.12" transform="rotate(0.03 76.8 437.85)" x="76.8" y="437.85" text-anchor="end" font-size="8.3" letter-spacing="0.05">AML074</text>
<text stroke="#111" stroke-width="0.12" transform="rotate(0.03 76.8 446.45)" x="76.8" y="446.45" text-anchor="end" font-size="8.3" letter-spacing="0.05">AML085</text>
<text stroke="#111" stroke-width="0.12" transform="rotate(0.03 76.8 455.05)" x="76.8" y="455.05" text-anchor="end" font-size="8.3" letter-spacing="0.05">AML100</text>
<text stroke="#111" stroke-width="0.12" transform="rotate(0.03 76.8 463.66)" x="76.8" y="463.66" text-anchor="end" font-size="8.3" letter-spacing="0.05">AML080</text>
<text stroke="#111" stroke-width="0.12" transform="rotate(0.03 76.8 472.26)" x="76.8" y="472.26" text-anchor="end" font-size="8.3" letter-spacing="0.05">AML069</text>
<text stroke="#111" stroke-width="0.12" transform="rotate(0.03 76.8 480.87)" x="76.8" y="480.87" text-anchor="end" font-size="8.3" letter-spacing="0.05">AML070</text>
<text stroke="#111" stroke-width="0.12" transform="rotate(0.03 76.8 489.47)" x="76.8" y="489.47" text-anchor="end" font-size="8.3" letter-spacing="0.05">AML098</text>
<text stroke="#111" stroke-width="0.12" transform="rotate(0.03 76.8 498.07)" x="76.8" y="498.07" text-anchor="end" font-size="8.3" letter-spacing="0.05">AML075</text>
<text stroke="#111" stroke-width="0.12" transform="rotate(0.03 76.8 506.68)" x="76.8" y="506.68" text-anchor="end" font-size="8.3" letter-spacing="0.05">AML089</text>
<text stroke="#111" stroke-width="0.12" transform="rotate(0.03 76.8 515.28)" x="76.8" y="515.28" text-anchor="end" font-size="8.3" letter-spacing="0.05">AML082</text>
<text stroke="#111" stroke-width="0.12" transform="rotate(0.03 76.8 523.89)" x="76.8" y="523.89" text-anchor="end" font-size="8.3" letter-spacing="0.05">AML092</text>
<text stroke="#111" stroke-width="0.12" transform="rotate(0.03 76.8 532.49)" x="76.8" y="532.49" text-anchor="end" font-size="8.3" letter-spacing="0.05">AML076</text>
<text stroke="#111" stroke-width="0.12" transform="rotate(0.03 76.8 541.09)" x="76.8" y="541.09" text-anchor="end" font-size="8.3" letter-spacing="0.05">AML087</text>
<text stroke="#111" stroke-width="0.12" transform="rotate(0.03 76.8 549.70)" x="76.8" y="549.70" text-anchor="end" font-size="8.3" letter-spacing="0.05">AML081</text>
<text stroke="#111" stroke-width="0.12" transform="rotate(0.03 76.8 558.30)" x="76.8" y="558.30" text-anchor="end" font-size="8.3" letter-spacing="0.05">AML072</text>
<text stroke="#111" stroke-width="0.12" transform="rotate(0.03 76.8 566.91)" x="76.8" y="566.91" text-anchor="end" font-size="8.3" letter-spacing="0.05">AML073</text>
<text stroke="#111" stroke-width="0.12" transform="rotate(0.03 76.8 575.51)" x="76.8" y="575.51" text-anchor="end" font-size="8.3" letter-spacing="0.05">AML093</text>
<text stroke="#111" stroke-width="0.12" transform="rotate(0.03 76.8 584.11)" x="76.8" y="584.11" text-anchor="end" font-size="8.3" letter-spacing="0.05">AML101</text>
<text stroke="#111" stroke-width="0.12" transform="rotate(0.03 76.8 592.72)" x="76.8" y="592.72" text-anchor="end" font-size="8.3" letter-spacing="0.05">AML103</text>
<text stroke="#111" stroke-width="0.12" transform="rotate(0.03 76.8 601.32)" x="76.8" y="601.32" text-anchor="end" font-size="8.3" letter-spacing="0.05">AML090</text>
<text stroke="#111" stroke-width="0.12" transform="rotate(0.03 76.8 609.93)" x="76.8" y="609.93" text-anchor="end" font-size="8.3" letter-spacing="0.05">AML097</text>
<text stroke="#111" stroke-width="0.12" transform="rotate(0.03 76.8 618.53)" x="76.8" y="618.53" text-anchor="end" font-size="8.3" letter-spacing="0.05">AML071</text>
<text stroke="#111" stroke-width="0.12" transform="rotate(0.03 76.8 627.13)" x="76.8" y="627.13" text-anchor="end" font-size="8.3" letter-spacing="0.05">AML083</text>
<text stroke="#111" stroke-width="0.12" transform="rotate(0.03 76.8 635.74)" x="76.8" y="635.74" text-anchor="end" font-size="8.3" letter-spacing="0.05">AML091</text>
<path d="M80.3 13.65H83.65M80.3 22.25H83.65M80.3 30.86H83.65M80.3 39.46H83.65M80.3 48.07H83.65M80.3 56.67H83.65M80.3 65.27H83.65M80.3 73.88H83.65M80.3 82.48H83.65M80.3 91.09H83.65M80.3 99.69H83.65M80.3 108.29H83.65M80.3 116.90H83.65M80.3 125.50H83.65M80.3 134.11H83.65M80.3 142.71H83.65M80.3 151.31H83.65M80.3 159.92H83.65M80.3 168.52H83.65M80.3 177.13H83.65M80.3 185.73H83.65M80.3 194.33H83.65M80.3 202.94H83.65M80.3 211.54H83.65M80.3 220.15H83.65M80.3 228.75H83.65M80.3 237.35H83.65M80.3 245.96H83.65M80.3 254.56H83.65M80.3 263.17H83.65M80.3 271.77H83.65M80.3 280.37H83.65M80.3 288.98H83.65M80.3 297.58H83.65M80.3 306.19H83.65M80.3 314.79H83.65M80.3 323.39H83.65M80.3 332.00H83.65M80.3 340.60H83.65M80.3 349.21H83.65M80.3 357.81H83.65M80.3 366.41H83.65M80.3 375.02H83.65M80.3 383.62H83.65M80.3 392.23H83.65M80.3 400.83H83.65M80.3 409.43H83.65M80.3 418.04H83.65M80.3 426.64H83.65M80.3 435.25H83.65M80.3 443.85H83.65M80.3 452.45H83.65M80.3 461.06H83.65M80.3 469.66H83.65M80.3 478.27H83.65M80.3 486.87H83.65M80.3 495.47H83.65M80.3 504.08H83.65M80.3 512.68H83.65M80.3 521.29H83.65M80.3 529.89H83.65M80.3 538.49H83.65M80.3 547.10H83.65M80.3 555.70H83.65M80.3 564.31H83.65M80.3 572.91H83.65M80.3 581.51H83.65M80.3 590.12H83.65M80.3 598.72H83.65M80.3 607.33H83.65M80.3 615.93H83.65M80.3 624.53H83.65M80.3 633.14H83.65" stroke="#000" stroke-width="1.15" fill="none"/>
<path d="M83.55 7.3V641.3" stroke="#111" stroke-width="1.1" fill="none"/>
<path d="M83.05 638.85H410.4M416.1 638.85H510.9" stroke="#111" stroke-width="1.45" fill="none"/>
<path d="M116.28 638.8V640.7M148.92 638.8V641.7M181.56 638.8V640.7M214.19 638.8V641.7M246.82 638.8V640.7M279.46 638.8V641.7M312.10 638.8V640.7M344.73 638.8V641.7M377.37 638.8V640.7M409.9 636.3V641.4M416.60 636.3V641.4M421.14 638.8V640.5M425.68 638.8V640.5M430.22 638.8V640.5M434.76 638.8V640.5M439.30 638.8V641.8M443.84 638.8V640.5M448.38 638.8V640.5M452.92 638.8V640.5M457.46 638.8V640.5M462.00 638.8V641.8M466.54 638.8V640.5M471.08 638.8V640.5M475.62 638.8V640.5M480.16 638.8V640.5M484.70 638.8V641.8M489.24 638.8V640.5M493.78 638.8V640.5M498.32 638.8V640.5M502.86 638.8V640.5M507.40 638.8V641.8" stroke="#111" stroke-width="1.0" fill="none"/>
<text stroke="#111" transform="rotate(0.03 83.45 652.4)" x="83.45" y="652.4" text-anchor="middle" font-size="8.2" stroke-width="0.12">0</text>
<text stroke="#111" transform="rotate(0.03 148.72 652.4)" x="148.72" y="652.4" text-anchor="middle" font-size="8.2" stroke-width="0.12">1</text>
<text stroke="#111" transform="rotate(0.03 213.99 652.4)" x="213.99" y="652.4" text-anchor="middle" font-size="8.2" stroke-width="0.12">2</text>
<text stroke="#111" transform="rotate(0.03 279.26 652.4)" x="279.26" y="652.4" text-anchor="middle" font-size="8.2" stroke-width="0.12">3</text>
<text stroke="#111" transform="rotate(0.03 344.53 652.4)" x="344.53" y="652.4" text-anchor="middle" font-size="8.2" stroke-width="0.12">4</text>
<text stroke="#111" transform="rotate(0.03 409.90 652.4)" x="409.90" y="652.4" text-anchor="middle" font-size="8.2" stroke-width="0.12">5</text>
<text stroke="#111" transform="rotate(0.03 439.30 652.4)" x="439.30" y="652.4" text-anchor="middle" font-size="8.2" stroke-width="0.12">10</text>
<text stroke="#111" transform="rotate(0.03 462.00 652.4)" x="462.00" y="652.4" text-anchor="middle" font-size="8.2" stroke-width="0.12">15</text>
<text stroke="#111" transform="rotate(0.03 485.10 652.4)" x="485.10" y="652.4" text-anchor="middle" font-size="8.2" stroke-width="0.12">20</text>
<text stroke="#111" transform="rotate(0.03 508.10 652.4)" x="508.10" y="652.4" text-anchor="middle" font-size="8.2" stroke-width="0.12">25</text>
<text stroke="#111" transform="rotate(0.03 294.3 666.1)" x="294.3" y="666.1" text-anchor="middle" font-size="9.8" stroke-width="0.3" textLength="85.6" lengthAdjust="spacingAndGlyphs">Time (years from diagnosis)</text>
<path d="M37.8 10.10H32.60V222.90H37.8M37.8 224.80H31.80V368.30H37.8M37.8 370.30H32.80V420.90H37.8M37.8 422.60H32.00V447.00H37.8M37.8 448.70H32.80V575.20H37.8M37.8 577.70H32.00V636.80H37.8" stroke="#111" stroke-width="0.95" fill="none"/>
<text stroke="#111" stroke-width="0.12" transform="translate(27.00 116.50) rotate(-90)" text-anchor="middle">Elderly</text>
<text stroke="#111" stroke-width="0.12" transform="translate(26.80 296.80) rotate(-90)" text-anchor="middle">Adults</text>
<text stroke="#111" stroke-width="0.12" transform="translate(14.20 395.90) rotate(-90)" text-anchor="middle">Young</text>
<text stroke="#111" stroke-width="0.12" transform="translate(27.00 395.70) rotate(-90)" text-anchor="middle">Adults</text>
<text stroke="#111" stroke-width="0.12" transform="translate(26.60 436.10) rotate(-90)" text-anchor="middle">Adolescents</text>
<text stroke="#111" stroke-width="0.12" transform="translate(26.30 512.00) rotate(-90)" text-anchor="middle">Children</text>
<text stroke="#111" stroke-width="0.12" transform="translate(26.70 607.50) rotate(-90)" text-anchor="middle">Infants</text>
<rect x="397" y="65.90" width="12.9" height="6.4" fill="#4b5267"/>
<text stroke="#111" stroke-width="0.12" transform="rotate(0.03 413.3 71.70)" x="413.3" y="71.70" font-size="7.75" letter-spacing="-0.13">Time to death (PR)</text>
<rect x="397" y="77.47" width="12.9" height="6.4" fill="#b9d4f0"/>
<text stroke="#111" stroke-width="0.12" transform="rotate(0.03 413.3 83.27)" x="413.3" y="83.27" font-size="7.75" letter-spacing="-0.13">Time to R1</text>
<rect x="397" y="89.04" width="12.9" height="6.4" fill="#b9bdd6"/>
<text stroke="#111" stroke-width="0.12" transform="rotate(0.03 413.3 94.84)" x="413.3" y="94.84" font-size="7.75" letter-spacing="-0.13">Time to R2/death</text>
<rect x="397" y="100.61" width="12.9" height="6.4" fill="#6373a3"/>
<text stroke="#111" stroke-width="0.12" transform="rotate(0.03 413.3 106.41)" x="413.3" y="106.41" font-size="7.75" letter-spacing="-0.13">Time to R3/death</text>
<rect x="397" y="112.18" width="12.9" height="6.4" fill="#2d4a82"/>
<text stroke="#111" stroke-width="0.12" transform="rotate(0.03 413.3 117.98)" x="413.3" y="117.98" font-size="7.75" letter-spacing="-0.13">Time to R4/death</text>
<polygon points="403.60,163.50 404.35,165.17 406.17,165.37 404.81,166.59 405.19,168.38 403.60,167.47 402.01,168.38 402.39,166.59 401.03,165.37 402.85,165.17" fill="#111"/>
<text stroke="#111" stroke-width="0.12" transform="rotate(0.03 413.4 168.00)" x="413.4" y="168.00" letter-spacing="-0.03">HSCT</text>
<circle cx="403.60" cy="178.15" r="2.05" fill="#a90a2a"/>
<text stroke="#111" stroke-width="0.12" transform="rotate(0.03 413.4 180.65)" x="413.4" y="180.65" letter-spacing="-0.03">WGS 90X</text>
<circle cx="403.60" cy="190.30" r="1.6" fill="#fff" stroke="#a90a2a" stroke-width="1.2"/>
<text stroke="#111" stroke-width="0.12" transform="rotate(0.03 413.4 193.10)" x="413.4" y="193.10" letter-spacing="-0.03">WGS 30X</text>
<polygon points="400.90,202.45 403.60,199.75 406.30,202.45 403.60,205.15" fill="#a90a2a"/>
<text stroke="#111" stroke-width="0.12" transform="rotate(0.03 413.4 205.25)" x="413.4" y="205.25" letter-spacing="-0.03">WES</text>
<path d="M0 0H520V676H0Z M1 1V674.55H518.55V1Z" fill="#000" fill-rule="evenodd"/>
</svg>
</body></html>
